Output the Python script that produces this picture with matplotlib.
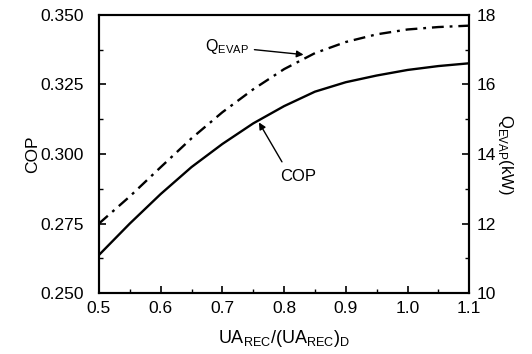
import numpy as np
import matplotlib
matplotlib.use('Agg')
import matplotlib.pyplot as plt
from matplotlib.ticker import MultipleLocator

plt.rcParams['font.family'] = ['Liberation Sans', 'DejaVu Sans']

# data
ua_ratio = [0.5, 0.55, 0.6, 0.65, 0.7, 0.75, 0.8, 0.85, 0.9, 0.95, 1.0, 1.05, 1.1]
cop = [0.2637, 0.2750, 0.2856, 0.2953, 0.3036, 0.3110, 0.3172, 0.3224, 0.3258, 0.3282, 0.3302, 0.3316, 0.3326]
q_evap = [12.0, 12.78, 13.62, 14.45, 15.2, 15.86, 16.44, 16.9, 17.22, 17.44, 17.58, 17.65, 17.69]

fig = plt.figure(figsize=(5.32, 3.54), dpi=100)
ax = fig.add_axes([0.186, 0.172, 0.696, 0.786])
ax2 = ax.twinx()

ax.plot(ua_ratio, cop, color='k', lw=1.7)
ax2.plot(ua_ratio, q_evap, color='k', lw=1.7, linestyle=(0, (5, 2.5, 1.2, 2.5)))

ax.set_xlim(0.5, 1.1)
ax.set_ylim(0.25, 0.35)
ax2.set_ylim(10, 18)

ax.xaxis.set_major_locator(MultipleLocator(0.1))
ax.xaxis.set_minor_locator(MultipleLocator(0.05))
ax.yaxis.set_major_locator(MultipleLocator(0.025))
ax.yaxis.set_minor_locator(MultipleLocator(0.0125))
ax2.yaxis.set_major_locator(MultipleLocator(2))
ax2.yaxis.set_minor_locator(MultipleLocator(1))

ax.xaxis.set_major_formatter(plt.FuncFormatter(lambda v, p: '%.1f' % v))
ax.yaxis.set_major_formatter(plt.FuncFormatter(lambda v, p: '%.3f' % v))

for a in (ax, ax2):
    for s in a.spines.values():
        s.set_linewidth(1.5)
ax.tick_params(which='both', direction='in', top=False, right=False, labelsize=12.5)
ax.tick_params(which='major', length=5, width=1.2)
ax.tick_params(which='minor', length=3, width=1.0)
ax.tick_params(axis='y', pad=11)
ax.tick_params(axis='x', pad=6)
ax2.tick_params(which='both', direction='in', labelsize=12.5, pad=5)
ax2.tick_params(which='major', length=5, width=1.2)
ax2.tick_params(which='minor', length=3, width=1.0)

ax.set_xlabel(r'UA$_{\mathregular{REC}}$/(UA$_{\mathregular{REC}}$)$_{\mathregular{D}}$',
              fontsize=13, labelpad=8)
ax.set_ylabel('COP', fontsize=12.5, labelpad=0)
ax2.set_ylabel(r'Q$_{\mathregular{EVAP}}$(kW)', fontsize=12, rotation=270, labelpad=14)

arrow = dict(arrowstyle='-|>', color='k', lw=1.0, mutation_scale=10)
ax.annotate(r'Q$_{\mathregular{EVAP}}$', xy=(0.836, 0.3356), xytext=(0.672, 0.3385),
            fontsize=11.5, va='center', ha='left', arrowprops=arrow)
ax.annotate('COP', xy=(0.757, 0.3122), xytext=(0.793, 0.292),
            fontsize=12, va='center', ha='left',
            arrowprops=dict(arrowstyle='-|>', color='k', lw=1.0, mutation_scale=10,
                            relpos=(0.1, 1.3)))

fig.savefig('out.png', dpi=100)
